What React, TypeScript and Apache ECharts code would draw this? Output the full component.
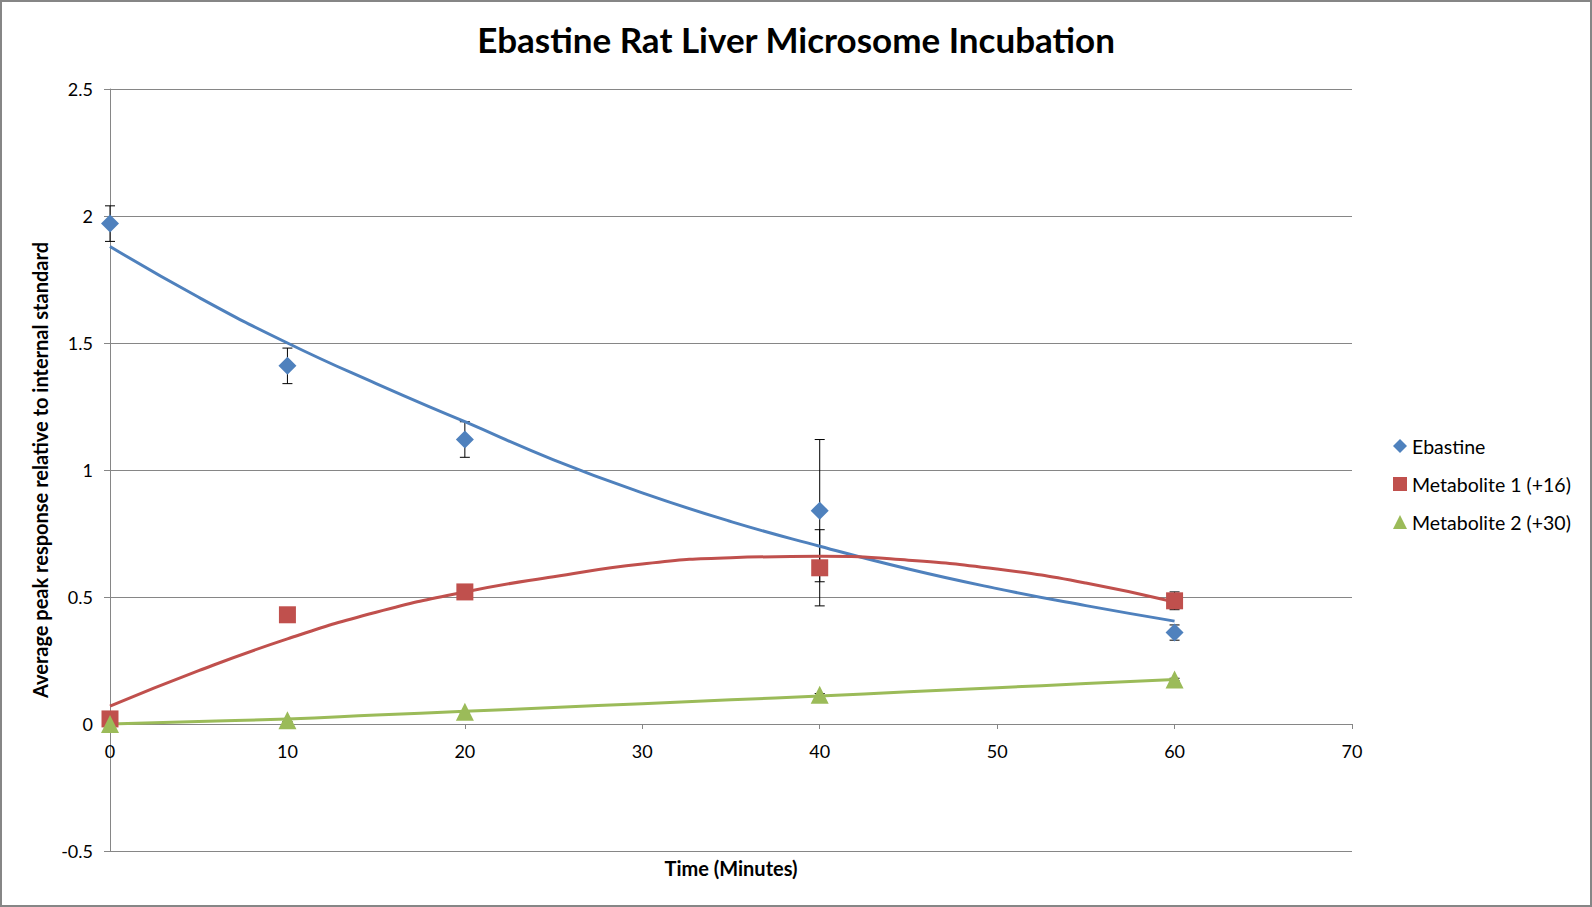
import React, { useEffect, useRef } from 'react';
import * as echarts from 'echarts';

const timePoints = [0, 10, 20, 40, 60];

const ebastine = [1.97, 1.41, 1.12, 0.84, 0.36];
const ebastineErr = [0.07, 0.07, 0.07, 0.28, 0.03];
const metabolite1 = [0.02, 0.43, 0.52, 0.615, 0.485];
const metabolite1Err = [0.01, 0.01, 0.01, 0.15, 0.035];
const metabolite2 = [0, 0.015, 0.048, 0.115, 0.175];
const metabolite2Err = [0.005, 0.005, 0.005, 0.005, 0.005];

// trendlines
const trendTimes = [0, 5, 10, 15, 20, 25, 30, 35, 40, 45, 50, 55, 60];
const ebastineTrend = [1.88, 1.68, 1.5, 1.34, 1.19, 1.04, 0.91, 0.797, 0.7, 0.61, 0.533, 0.466, 0.405];
const metabolite1Trend = [0.07, 0.21, 0.335, 0.44, 0.52, 0.58, 0.63, 0.655, 0.66, 0.645, 0.61, 0.555, 0.48];
const metabolite2Trend = [0, 0.01, 0.02, 0.035, 0.05, 0.065, 0.08, 0.095, 0.11, 0.127, 0.143, 0.159, 0.175];

const yTicks = { min: -0.5, max: 2.5, interval: 0.5 };
const xTicks = { min: 0, max: 70, interval: 10 };

const BLUE = '#4F81BD';
const RED = '#C0504D';
const GREEN = '#9BBB59';
const GRID = '#868686';
const FONT = 'Lato, "Noto Sans", sans-serif';

const pairs = (xs: number[], ys: number[]) => xs.map((x, i) => [x, ys[i]]);
const triples = (xs: number[], ys: number[], es: number[]) => xs.map((x, i) => [x, ys[i], es[i]]);

const errorBars = (name: string, data: number[][]) => ({
  name: name + ' error',
  type: 'custom',
  z: 1,
  silent: true,
  data,
  renderItem: (_params: any, api: any) => {
    const x = api.value(0);
    const y = api.value(1);
    const e = api.value(2);
    const top = api.coord([x, y + e]);
    const bot = api.coord([x, y - e]);
    const hw = 5;
    const style = { stroke: '#000', lineWidth: 1 };
    return {
      type: 'group',
      children: [
        { type: 'line', shape: { x1: top[0], y1: top[1], x2: bot[0], y2: bot[1] }, style },
        { type: 'line', shape: { x1: top[0] - hw, y1: top[1], x2: top[0] + hw, y2: top[1] }, style },
        { type: 'line', shape: { x1: bot[0] - hw, y1: bot[1], x2: bot[0] + hw, y2: bot[1] }, style },
      ],
    };
  },
});

const trend = (name: string, data: number[][], color: string) => ({
  name: name + ' trend',
  type: 'line',
  z: 2,
  silent: true,
  showSymbol: false,
  smooth: true,
  data,
  lineStyle: { color, width: 3 },
  itemStyle: { color },
});

const App: React.FC = () => {
  const chartRef = useRef<HTMLDivElement | null>(null);

  useEffect(() => {
    document.body.style.margin = '0';
    if (!chartRef.current) return;
    const chart = echarts.init(chartRef.current, null, { renderer: 'svg' });

    const option = {
      animation: false,
      backgroundColor: '#fff',
      textStyle: { fontFamily: FONT },
      title: {
        text: 'Ebastine Rat Liver Microsome Incubation',
        left: 'center',
        top: 16,
        textStyle: { fontFamily: FONT, fontSize: 35, fontWeight: 'bold', color: '#000' },
      },
      graphic: [
        {
          type: 'rect',
          shape: { x: 1, y: 1, width: 1590, height: 905 },
          style: { fill: 'none', stroke: GRID, lineWidth: 2 },
          silent: true,
        },
      ],
      legend: {
        orient: 'vertical',
        left: 1388,
        top: 431,
        itemWidth: 14,
        itemHeight: 14,
        itemGap: 18,
        textStyle: { fontFamily: FONT, fontSize: 19.5, color: '#000' },
        data: [
          { name: 'Ebastine', icon: 'diamond' },
          { name: 'Metabolite 1 (+16)', icon: 'rect' },
          { name: 'Metabolite 2 (+30)', icon: 'triangle' },
        ],
      },
      grid: [
        // plot area, 2.5 down to -0.5
        { left: 110, right: 240, top: 89, bottom: 56, containLabel: false, outerBoundsMode: 'none' },
        // same width, ends at the zero line, carries the time axis
        { left: 110, right: 240, top: 89, bottom: 183, containLabel: false, outerBoundsMode: 'none' },
      ],
      xAxis: [
        {
          type: 'value',
          gridIndex: 0,
          min: xTicks.min,
          max: xTicks.max,
          interval: xTicks.interval,
          axisLine: { show: false },
          axisTick: { show: false },
          axisLabel: { show: false },
          splitLine: { show: false },
        },
        {
          type: 'value',
          gridIndex: 1,
          min: xTicks.min,
          max: xTicks.max,
          interval: xTicks.interval,
          name: 'Time (Minutes)',
          nameLocation: 'middle',
          nameGap: 134,
          nameTextStyle: { fontFamily: FONT, fontSize: 20, fontWeight: 'bold', color: '#000' },
          axisLine: { show: true, onZero: false, lineStyle: { color: GRID, width: 1 } },
          axisTick: { show: true, length: 5, lineStyle: { color: GRID } },
          axisLabel: { fontFamily: FONT, fontSize: 18, color: '#000', margin: 18 },
          splitLine: { show: false },
        },
      ],
      yAxis: [
        {
          type: 'value',
          gridIndex: 0,
          min: yTicks.min,
          max: yTicks.max,
          interval: yTicks.interval,
          name: 'Average peak response relative to internal standard',
          nameLocation: 'middle',
          nameGap: 59,
          nameTextStyle: { fontFamily: FONT, fontSize: 20, fontWeight: 'bold', color: '#000' },
          axisLine: { show: true, lineStyle: { color: GRID, width: 1 } },
          axisTick: { show: true, length: 6, lineStyle: { color: GRID } },
          axisLabel: { fontFamily: FONT, fontSize: 18, color: '#000', margin: 17 },
          splitLine: { show: true, lineStyle: { color: GRID, width: 1 } },
        },
        {
          type: 'value',
          gridIndex: 1,
          min: 0,
          max: 1,
          show: false,
        },
      ],
      series: [
        errorBars('Ebastine', triples(timePoints, ebastine, ebastineErr)),
        errorBars('Metabolite 1 (+16)', triples(timePoints, metabolite1, metabolite1Err)),
        errorBars('Metabolite 2 (+30)', triples(timePoints, metabolite2, metabolite2Err)),
        trend('Ebastine', pairs(trendTimes, ebastineTrend), BLUE),
        trend('Metabolite 1 (+16)', pairs(trendTimes, metabolite1Trend), RED),
        trend('Metabolite 2 (+30)', pairs(trendTimes, metabolite2Trend), GREEN),
        {
          name: 'Ebastine',
          type: 'scatter',
          z: 3,
          symbol: 'diamond',
          symbolSize: 18,
          itemStyle: { color: BLUE, opacity: 1 },
          data: pairs(timePoints, ebastine),
        },
        {
          name: 'Metabolite 1 (+16)',
          type: 'scatter',
          z: 3,
          symbol: 'rect',
          symbolSize: 17,
          itemStyle: { color: RED, opacity: 1 },
          data: pairs(timePoints, metabolite1),
        },
        {
          name: 'Metabolite 2 (+30)',
          type: 'scatter',
          z: 3,
          symbol: 'triangle',
          symbolSize: 18,
          itemStyle: { color: GREEN, opacity: 1 },
          data: pairs(timePoints, metabolite2),
        },
      ],
    };

    chart.setOption(option);
    return () => {
      chart.dispose();
    };
  }, []);

  return (
    <div
      ref={chartRef}
      style={{ position: 'absolute', left: 0, top: 0, width: '1592px', height: '907px' }}
    />
  );
};

export default App;
